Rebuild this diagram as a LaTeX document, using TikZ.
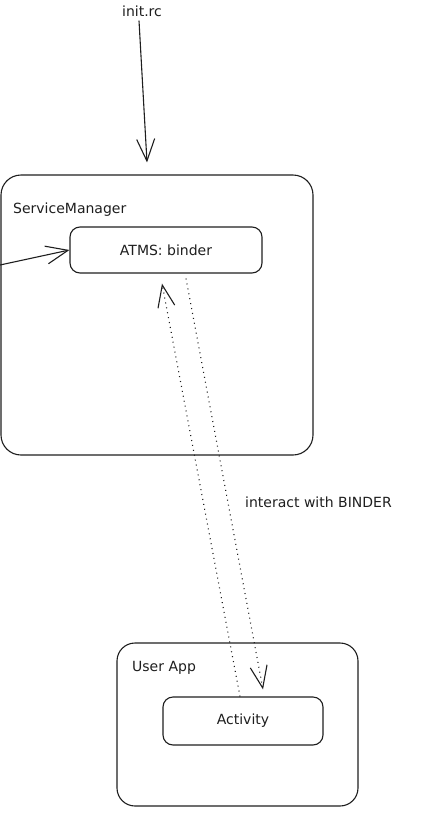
\documentclass[tikz,border=0pt]{standalone}
\usepackage{fontspec}
\setmainfont{DejaVu Sans}
\usetikzlibrary{arrows.meta}
\definecolor{ink}{HTML}{1E1E1E}
\tikzset{
  box/.style={draw=ink, line width=1.1pt, rectangle, inner sep=0pt},
  lbl/.style={text=ink, font=\fontsize{14}{17}\selectfont, inner sep=0pt},
  arr/.style={draw=ink, line width=1.1pt, -{Straight Barb[length=22pt,width=18pt,line width=1.1pt]}},
  darr/.style={draw=ink, line width=1.1pt, dash pattern=on 1pt off 4pt, -{Straight Barb[length=22pt,width=17pt,line width=1.1pt]}},
}
\begin{document}
\begin{tikzpicture}[x=1pt,y=-1pt]
\useasboundingbox (0,0) rectangle (432,839);
\node[lbl] (init) at (142,11) {init.rc};
\node[box, rounded corners=20pt, minimum width=312pt, minimum height=280pt] (sm) at (157,315) {};
\node[lbl, anchor=west] (smt) at (13,210) {ServiceManager};
\node[box, rounded corners=10pt, minimum width=192pt, minimum height=46pt, lbl] (atms) at (166,250) {ATMS: binder};
\node[box, rounded corners=18pt, minimum width=241pt, minimum height=163pt] (ua) at (237.5,724.5) {};
\node[lbl, anchor=west] (uat) at (132,668) {User App};
\node[box, rounded corners=10pt, minimum width=160pt, minimum height=48pt, lbl] (act) at (243,721) {Activity};
\node[lbl, anchor=west] (ib) at (245,502) {interact with BINDER};
\coordinate (lin) at (0,265);
\draw[arr] ([xshift=-3pt,yshift=-4pt]init.south) -- ([xshift=-10pt,yshift=12pt]sm.north);
\draw[arr] (lin) -- (atms.west);
\draw[darr] ([xshift=-3pt]act.north) -- ([xshift=-4pt,yshift=-10pt]atms.south);
\draw[darr] ([xshift=20pt,yshift=-5pt]atms.south) -- ([xshift=20pt,yshift=7pt]act.north);
\end{tikzpicture}
\end{document}
